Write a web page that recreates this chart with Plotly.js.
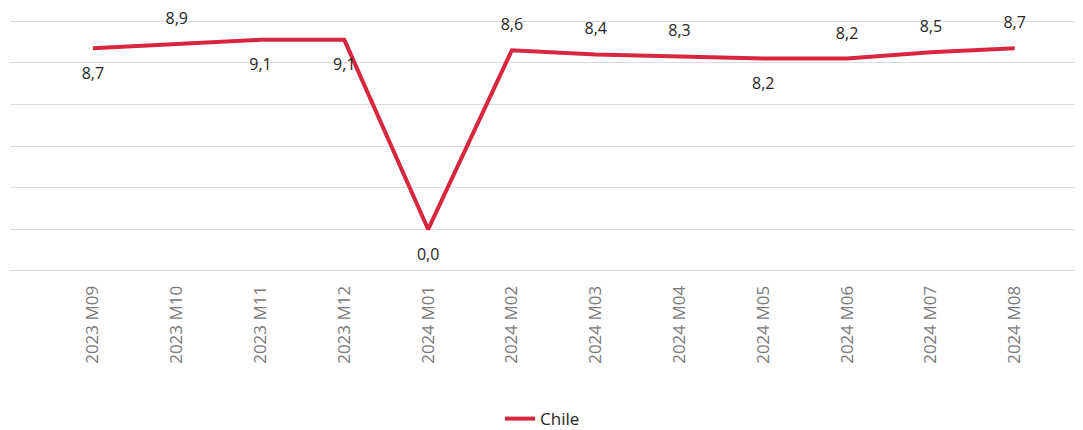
<!DOCTYPE html>
<html>
<head>
<meta charset="utf-8">
<script src="https://cdn.plot.ly/plotly-3.0.1.min.js"></script>
<style>html,body{margin:0;padding:0;background:#fff;}#chart{width:1083px;height:430px;}</style>
</head>
<body>
<div id="chart"></div>
<script>
const categories = ["2023 M09","2023 M10","2023 M11","2023 M12","2024 M01","2024 M02","2024 M03","2024 M04","2024 M05","2024 M06","2024 M07","2024 M08"];
const chileValues = [8.7, 8.9, 9.1, 9.1, 0.0, 8.6, 8.4, 8.3, 8.2, 8.2, 8.5, 8.7];
const labelPositions = ["bottom center","top center","bottom center","bottom center","bottom center","top center","top center","top center","bottom center","top center","top center","top center"];
const seriesName = "Chile";

const trace = {
  x: categories,
  y: chileValues,
  type: "scatter",
  mode: "lines+markers+text",
  name: seriesName,
  line: {color: "#d7263d", width: 4},
  marker: {size: labelPositions.map(p => p.startsWith("bottom") ? 28 : 24),
           color: "rgba(0,0,0,0)", opacity: 0, line: {width: 0, color: "rgba(0,0,0,0)"}},
  text: chileValues.map(v => v.toFixed(1).replace(".", ",")),
  textposition: labelPositions,
  textfont: {family: "Open Sans, sans-serif", size: 16, color: "#252525"},
  hoverinfo: "x+y",
  cliponaxis: false
};

const layout = {
  width: 1083,
  height: 430,
  margin: {l: 10, r: 8, t: 19, b: 157, autoexpand: false},
  paper_bgcolor: "#fff",
  plot_bgcolor: "#fff",
  showlegend: true,
  legend: {orientation: "h", x: 0.5, xanchor: "center", y: -0.575, yanchor: "middle",
           font: {family: "Open Sans, sans-serif", size: 17, color: "#252525"}},
  xaxis: {
    type: "category",
    range: [-0.99, 11.72],
    tickangle: -90,
    tickfont: {family: "Open Sans, sans-serif", size: 17, color: "#7a7a7a"},
    showgrid: false,
    showline: false,
    zeroline: false,
    ticks: "outside",
    ticklen: 5,
    tickcolor: "rgba(0,0,0,0)",
    automargin: false
  },
  yaxis: {
    range: [-2.1, 10.1],
    dtick: 2,
    tick0: 0,
    showticklabels: false,
    showgrid: true,
    gridcolor: "#dcdcdc",
    gridwidth: 1,
    zeroline: false,
    showline: false,
    ticks: "",
    automargin: false
  }
};

Plotly.newPlot("chart", [trace], layout, {displayModeBar: false, staticPlot: true});
</script>
</body>
</html>
